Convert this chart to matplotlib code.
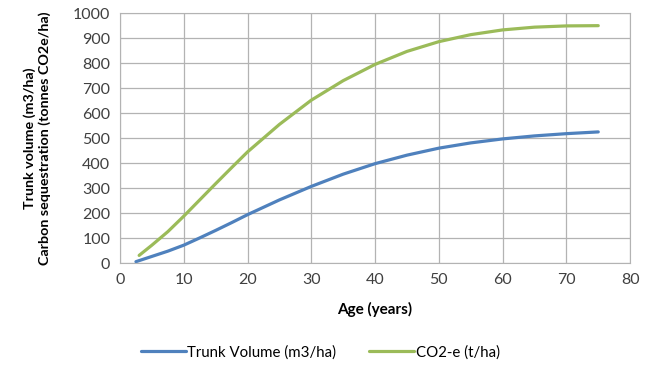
import matplotlib.pyplot as plt

# values
age_trunk = [2.5, 5, 7.5, 10, 12.5, 15, 17.5, 20, 25, 30, 35, 40, 45, 50, 55, 60, 65, 70, 75]
trunk_volume = [6, 27, 48, 72, 101, 131, 162, 194, 253, 307, 356, 398, 432, 460, 481, 497, 509, 518, 525]

age_co2 = [3, 5, 7.5, 10, 12.5, 15, 17.5, 20, 25, 30, 35, 40, 45, 50, 55, 60, 65, 70, 75]
co2e = [31, 72, 126, 188, 253, 318, 382, 445, 555, 652, 730, 795, 847, 886, 914, 933, 944, 949, 950]

x_ticks = [0, 10, 20, 30, 40, 50, 60, 70, 80]
y_ticks = [0, 100, 200, 300, 400, 500, 600, 700, 800, 900, 1000]

plt.rcParams['font.family'] = ['Lato', 'DejaVu Sans']

fig = plt.figure(figsize=(6.54, 3.87), dpi=100)
ax = fig.add_axes([0.1835, 0.32, 0.78, 0.646])

ax.plot(age_trunk, trunk_volume, color='#4F81BD', lw=2.3, label='Trunk Volume (m3/ha)',
        solid_capstyle='round', solid_joinstyle='round')
ax.plot(age_co2, co2e, color='#9BBB59', lw=2.3, label='CO2-e (t/ha)',
        solid_capstyle='round', solid_joinstyle='round')

ax.set_xlim(0, 80)
ax.set_ylim(0, 1000)
ax.set_xticks(x_ticks)
ax.set_yticks(y_ticks)
ax.grid(True, color='#b3b3b3', lw=0.9)
ax.set_axisbelow(True)
for s in ax.spines.values():
    s.set_color('#b3b3b3')
ax.tick_params(length=0, labelsize=11.5, colors='#404040', pad=7)

ax.set_xlabel('Age (years)', fontsize=11, fontweight='bold', labelpad=11)
ax.set_ylabel('Trunk volume (m3/ha)\nCarbon sequestration (tonnes CO2e/ha)',
              fontsize=10.3, fontweight='bold', linespacing=1.25)
ax.yaxis.set_label_coords(-0.135, 0.5)

fig.legend(loc='center', bbox_to_anchor=(0.49, 0.09), ncol=2, frameon=False,
           fontsize=10.8, handlelength=3.0, handletextpad=0.1, columnspacing=2.2)

fig.savefig('out.png', dpi=100)
